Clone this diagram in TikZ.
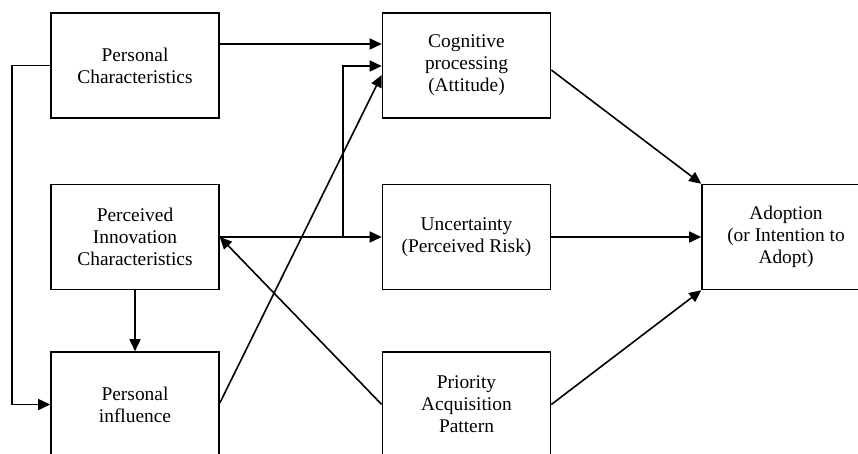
\documentclass[tikz,border=0pt]{standalone}
\usepackage{fontspec}
\setmainfont{Liberation Serif}
\usetikzlibrary{arrows.meta}
\begin{document}
\begin{tikzpicture}[x=1pt,y=-1pt,
  box/.style={draw,line width=1.6pt,minimum width=168pt,minimum height=105pt,align=center,inner sep=0pt,
    font=\fontsize{19.4}{22}\selectfont},
  arr/.style={line width=1.6pt,-{Triangle[length=12pt,width=11pt]}},
  ln/.style={line width=1.6pt}]
\useasboundingbox (0,0) rectangle (858,453);
\clip (0,0) rectangle (858,453);
\node[box] (pc)  at (135,65.5)  {Personal\\Characteristics};
\node[box] (pic) at (135,237)   {Perceived\\Innovation\\Characteristics};
\node[box] (pi)  at (135,404.5) {Personal\\influence};
\node[box] (cog) at (466.5,65.5) {Cognitive\\processing\\(Attitude)};
\node[box] (unc) at (466.5,237)  {Uncertainty\\(Perceived Risk)};
\node[box] (pap) at (466.5,404.5) {Priority\\Acquisition\\Pattern};
\node[box] (ad)  at (786,237) {Adoption\\(or Intention to\\Adopt)};
% connectors
\draw[arr] (pc.east |- 0,44) -- (cog.west |- 0,44);
\draw[arr] (pc.west) -- ++(-38,0) |- (pi.west);
\draw[arr] (pic.east) -- (unc.west);
\draw[arr] (pic.east -| 343,0) |- (cog.west |- 0,66);
\draw[arr] (pic.south) -- (pi.north);
\draw[arr] (pi.east |- 0,403) -- (cog.west |- 0,75);
\draw[arr] (pap.west) -- (pic.east);
\draw[arr] (cog.east |- 0,70) -- (ad.north west);
\draw[arr] (unc.east) -- (ad.west);
\draw[arr] (pap.east) -- (ad.south west);
\end{tikzpicture}
\end{document}
